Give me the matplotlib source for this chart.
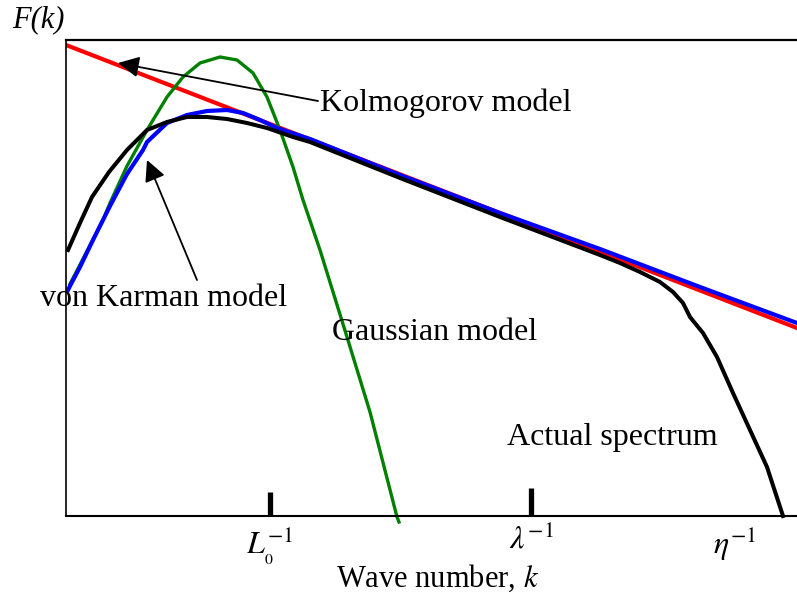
import numpy as np
import matplotlib.pyplot as plt

plt.rcParams['font.family'] = ['Liberation Serif', 'DejaVu Serif']
plt.rcParams['mathtext.fontset'] = 'stix'

# curves (arbitrary units, x from left spine, y from bottom)
kolmo_x = [0, 731]
kolmo_y = [471, 188]

karman_x = [2, 4, 14, 27, 44, 61, 77, 81, 101, 121, 141, 161, 177, 194, 211, 244,
            334, 434, 534, 634, 731]
karman_y = [226, 230, 249, 276, 310, 342, 366, 374, 393, 401, 405, 406, 403, 396, 388, 377,
            341, 303, 267, 229, 193]

actual_x = [2, 14, 26, 43, 61, 81, 101, 121, 141, 161, 181, 201, 227, 244, 334, 434,
            534, 554, 574, 594, 607, 617, 624, 637, 651, 667, 684, 701, 717]
actual_y = [266, 293, 319, 344, 366, 386, 394, 399, 399, 397, 393, 388, 379, 374, 338, 299,
            261, 253, 244, 234, 224, 213, 199, 183, 159, 123, 86, 49, 0]

gauss_x = [4, 19, 37, 44, 61, 81, 101, 117, 134, 154, 171, 187, 201, 214, 227, 237,
           254, 281, 304, 331, 333]
gauss_y = [232, 261, 296, 313, 350, 386, 419, 439, 453, 459, 456, 443, 419, 386, 349, 316,
           266, 179, 104, -1, -6]

tick_pos = [204, 465, 669]
tick_labels = [r'$L_{_0}^{-1}$', r'$\lambda^{-1}$', r'$\eta^{-1}$']
bar_top = [24, 28]

fig = plt.figure(figsize=(7.97, 5.97), dpi=100)
ax = fig.add_axes([66 / 797, 81 / 597, 744 / 797, 476 / 597])
ax.set_xlim(0, 744)
ax.set_ylim(0, 476)

ax.plot(kolmo_x, kolmo_y, color='#ff0000', lw=3.0)
ax.plot(gauss_x, gauss_y, color='#008000', lw=2.4, clip_on=False)
ax.plot(karman_x, karman_y, color='#0000ff', lw=3.0)
ax.plot(actual_x, actual_y, color='black', lw=2.9, clip_on=False)

ax.vlines(tick_pos[:2], 0, bar_top, color='black', lw=3.8)

ax.spines['right'].set_visible(False)
ax.spines['top'].set_linewidth(1.6)
ax.spines['bottom'].set_linewidth(1.5)
ax.spines['left'].set_linewidth(1.2)
ax.set_yticks([])
ax.set_xticks(tick_pos)
ax.set_xticklabels(tick_labels, fontsize=23)
ax.tick_params(axis='x', length=0, pad=6)
ax.set_xlabel(r'Wave number, $k$', fontsize=22, labelpad=-3)

fig.text(12 / 797, 1 - 20 / 597, 'F(k)', fontsize=22, style='italic', va='center')

kw = dict(fontsize=23, va='center', ha='left')
ax.text(254, 413, 'Kolmogorov model', **kw)
ax.text(-26, 218, 'von Karman model', **kw)
ax.text(266, 183, 'Gaussian model', **kw)
ax.text(441, 78, 'Actual spectrum', **kw)

arrow = dict(arrowstyle='-|>', color='black', lw=1.3, mutation_scale=32, shrinkA=0, shrinkB=0)
ax.annotate('', xy=(52, 453), xytext=(252, 415), arrowprops=arrow)
ax.annotate('', xy=(81, 356), xytext=(131, 236), arrowprops=arrow)

fig.savefig('out.png', dpi=100)
